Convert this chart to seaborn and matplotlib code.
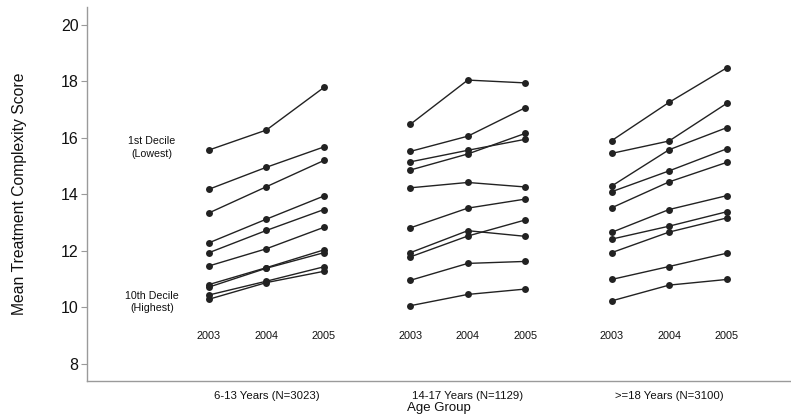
import numpy as np
import pandas as pd
import matplotlib
matplotlib.use("Agg")
import matplotlib.pyplot as plt
import seaborn as sns

years = [2003, 2004, 2005]
groups = ["6-13 Years (N=3023)", "14-17 Years (N=1129)", ">=18 Years (N=3100)"]

# decile series per age group (values for 2003, 2004, 2005)
g1 = [
    [15.57, 16.28, 17.79],
    [14.18, 14.96, 15.68],
    [13.34, 14.27, 15.20],
    [12.28, 13.12, 13.94],
    [11.93, 12.72, 13.46],
    [11.46, 12.07, 12.83],
    [10.80, 11.40, 12.03],
    [10.71, 11.38, 11.93],
    [10.43, 10.92, 11.43],
    [10.28, 10.87, 11.27],
]
g2 = [
    [16.48, 18.05, 17.95],
    [15.52, 16.06, 17.07],
    [15.15, 15.56, 15.95],
    [14.86, 15.43, 16.16],
    [14.23, 14.42, 14.26],
    [12.81, 13.51, 13.83],
    [11.93, 12.71, 12.51],
    [11.78, 12.52, 13.09],
    [10.95, 11.55, 11.62],
    [10.05, 10.45, 10.64],
]
g3 = [
    [15.90, 17.26, 18.48],
    [15.45, 15.89, 17.22],
    [14.29, 15.58, 16.36],
    [14.09, 14.83, 15.61],
    [13.52, 14.44, 15.13],
    [12.65, 13.46, 13.95],
    [12.41, 12.87, 13.38],
    [11.93, 12.66, 13.16],
    [10.98, 11.44, 11.91],
    [10.22, 10.78, 10.98],
]
group_data = [g1, g2, g3]

gap = 3.5  # spacing between age-group clusters on the x axis
rows = []
for gi, gd in enumerate(group_data):
    for di, series in enumerate(gd):
        for yi, (yr, v) in enumerate(zip(years, series)):
            rows.append({"x": gi * gap + yi, "score": v,
                         "line": f"{gi}-{di}", "year": yr})
df = pd.DataFrame(rows)

sns.set_style("white")
plt.rcParams["font.family"] = ["Liberation Sans", "DejaVu Sans"]

fig = plt.figure(figsize=(7.91, 4.16), dpi=100)
ax = fig.add_axes([0.110, 0.0841, 0.89, 0.899])

sns.lineplot(data=df, x="x", y="score", units="line", estimator=None,
             sort=False, color="#222222", lw=1.0, marker="o",
             markersize=5, markeredgewidth=0, ax=ax, legend=False)

ax.set_xlim(-2.12, 10.12)
ax.set_ylim(7.38, 20.64)
ax.set_yticks([8, 10, 12, 14, 16, 18, 20])
ax.tick_params(axis="y", labelsize=11.5, length=4, width=0.8,
               color="#9a9a9a", pad=2, left=True, labelcolor="#111111")
centers = [gi * gap + 1 for gi in range(len(groups))]
ax.set_xticks(centers)
ax.set_xticklabels(groups)
ax.tick_params(axis="x", labelsize=8.2, length=0, pad=7, labelcolor="#111111")
ax.set_xlabel("Age Group", fontsize=9.5, labelpad=1, color="#111111")
ax.set_ylabel("Mean Treatment Complexity Score", fontsize=11.3,
              labelpad=24, color="#111111")

for gi in range(len(groups)):
    for yi, yr in enumerate(years):
        ax.text(gi * gap + yi, 8.97, str(yr), ha="center", va="center",
                fontsize=7.8, color="#111111")

ax.text(-0.99, 15.66, "1st Decile\n(Lowest)", ha="center", va="center",
        fontsize=7.7, linespacing=1.3, color="#111111")
ax.text(-0.99, 10.18, "10th Decile\n(Highest)", ha="center", va="center",
        fontsize=7.7, linespacing=1.3, color="#111111")

for s in ["top", "right"]:
    ax.spines[s].set_visible(False)
for s in ["left", "bottom"]:
    ax.spines[s].set_color("#9a9a9a")
    ax.spines[s].set_linewidth(1.0)

fig.savefig("out.png", dpi=100)
